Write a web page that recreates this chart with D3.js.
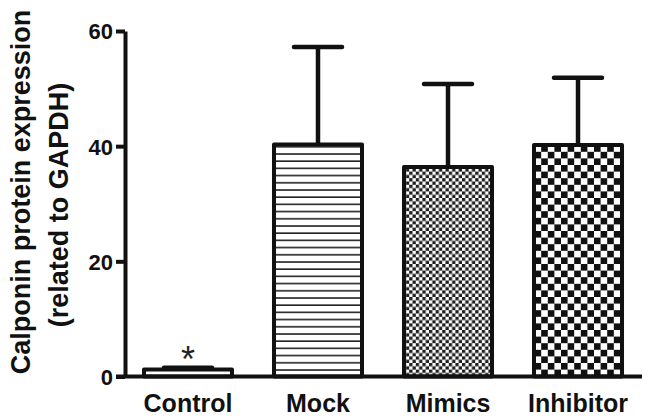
<!DOCTYPE html>
<html><head><meta charset="utf-8">
<script src="https://cdn.jsdelivr.net/npm/d3@7"></script>
<style>body{margin:0;background:#fff}svg{display:block}</style>
</head><body>
<svg id="c" width="649" height="418"></svg>
<script>
const categories = ["Control", "Mock", "Mimics", "Inhibitor"];
const means = [1.2, 40.3, 36.4, 40.2];
const upper = [1.5, 57.2, 50.8, 51.9];
const yTicks = [0, 20, 40, 60];
const patterns = ["none", "hlines", "finecheck", "coarsecheck"];
const yLabel = ["Calponin protein expression", "(related to GAPDH)"];

const svg = d3.select("#c");
const font = "Liberation Sans, Arial, Helvetica, sans-serif";
const x = d3.scaleBand().domain(categories).range([125, 641]).paddingInner(0.323).paddingOuter(0.146);
const y = d3.scaleLinear().domain([0, 60]).range([376.5, 31]);

const defs = svg.append("defs");
const hp = defs.append("pattern").attr("id","hlines").attr("patternUnits","userSpaceOnUse")
  .attr("width", 8).attr("height", 7.2);
hp.append("rect").attr("width",8).attr("height",7.2).attr("fill","#fff");
hp.append("rect").attr("y",2).attr("width",8).attr("height",1.6).attr("fill","#222");
function check(id, c, col){
  const p = defs.append("pattern").attr("id",id).attr("patternUnits","userSpaceOnUse")
    .attr("width", 2*c).attr("height", 2*c);
  p.append("rect").attr("width",2*c).attr("height",2*c).attr("fill","#fff");
  p.append("rect").attr("width",c).attr("height",c).attr("fill",col);
  p.append("rect").attr("x",c).attr("y",c).attr("width",c).attr("height",c).attr("fill",col);
}
check("finecheck", 3.3, "#1e1e1e");
check("coarsecheck", 6.6, "#111");

const data = categories.map((c,i)=>({c, m:means[i], u:upper[i], p:patterns[i]}));

// error bars
const eb = svg.append("g");
data.forEach(d=>{
  const cx = x(d.c) + x.bandwidth()/2;
  eb.append("line").attr("x1",cx).attr("x2",cx).attr("y1",y(d.m)).attr("y2",y(d.u))
    .attr("stroke","#111").attr("stroke-width",4.5);
  eb.append("line").attr("x1",cx-24).attr("x2",cx+24).attr("y1",y(d.u)).attr("y2",y(d.u))
    .attr("stroke","#111").attr("stroke-width",4.5).attr("stroke-linecap","round");
});

// bars
svg.append("g").selectAll("rect").data(data).join("rect")
  .attr("x", d=>x(d.c)).attr("width", x.bandwidth())
  .attr("y", d=>y(d.m)).attr("height", d=>y(0)-y(d.m))
  .attr("fill", d=> d.p==="none" ? "#fff" : `url(#${d.p})`)
  .attr("stroke","#111").attr("stroke-width",4).attr("stroke-linejoin","round");

// asterisk
svg.append("text").attr("x", x("Control")+x.bandwidth()/2).attr("y", y(upper[0]) + 4)
  .attr("text-anchor","middle").attr("font-family",font).attr("font-size",36)
  .attr("fill","#222").text("*");

// y axis
const ya = svg.append("g").attr("transform","translate(125,0)")
  .call(d3.axisLeft(y).tickValues(yTicks).tickSize(9).tickSizeOuter(0).tickPadding(3).tickFormat(d3.format("d")));
ya.select(".domain").attr("stroke","#111").attr("stroke-width",4);
ya.selectAll(".tick line").attr("stroke","#111").attr("stroke-width",4);
ya.selectAll(".tick text").attr("font-family",font).attr("font-size",22).attr("font-weight","bold")
  .attr("fill","#111").attr("dy","0.36em");

// x axis
const xa = svg.append("g").attr("transform",`translate(0,${y(0)})`)
  .call(d3.axisBottom(x).tickSize(0).tickSizeOuter(0));
xa.select(".domain").attr("stroke","#111").attr("stroke-width",4).attr("d","M116,0H642");
xa.selectAll(".tick text").attr("font-family",font).attr("font-size",25).attr("font-weight","bold")
  .attr("fill","#111").attr("y",35).attr("dy",0);

// y label
const yl = svg.append("g").attr("font-family",font).attr("font-weight","bold").attr("font-size",27)
  .attr("fill","#111").attr("text-anchor","middle");
yl.append("text").attr("transform","translate(30,192) rotate(-90)").text(yLabel[0]);
yl.append("text").attr("transform","translate(68,205) rotate(-90)").text(yLabel[1]);
</script>
</body></html>
